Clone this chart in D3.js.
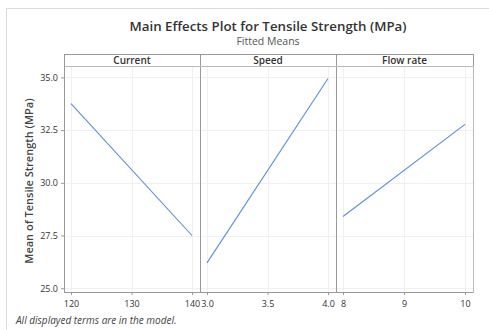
<!DOCTYPE html>
<html><head><meta charset="utf-8">
<script src="https://cdn.jsdelivr.net/npm/d3@7"></script>
<style>body{margin:0;background:#fff;font-family:"Open Sans","Noto Sans",sans-serif;}</style>
</head><body>
<svg id="c" width="489" height="330"></svg>
<script>
const factors = ["Current", "Speed", "Flow rate"];
const levels = [[120, 140], [3.0, 4.0], [8, 10]];
const means = [[33.75, 27.5], [26.2, 34.95], [28.4, 32.77]];
const xTicks = [[120, 130, 140], [3.0, 3.5, 4.0], [8, 9, 10]];
const xTickFmt = [d3.format("d"), d3.format(".1f"), d3.format("d")];
const yTicks = [25.0, 27.5, 30.0, 32.5, 35.0];

const svg = d3.select("#c");
svg.append("rect").attr("x", 6.5).attr("y", 8.5).attr("width", 520).attr("height", 400)
  .attr("fill", "none").attr("stroke", "#dcdcdc");

const L = 64, R = 473, T = 66, B = 292, HT = 54;
const y = d3.scaleLinear().domain([24.82, 35.54]).range([B, T]);

svg.append("text").attr("x", 268).attr("y", 31).attr("text-anchor", "middle")
  .attr("font-size", 13.3).attr("font-weight", 600).attr("fill", "#333").text("Main Effects Plot for Tensile Strength (MPa)");
svg.append("text").attr("x", 268).attr("y", 45).attr("text-anchor", "middle")
  .attr("font-size", 10.5).attr("fill", "#555").text("Fitted Means");

const grid = "#f0f0f0";
const edges = [L, 200, 336, R];
factors.forEach((f, i) => {
  const x0 = edges[i], x1 = edges[i + 1], w = x1 - x0;
  const x = d3.scaleLinear().domain(d3.extent(levels[i])).range([x0 + 7, x1 - 8]);
  const g = svg.append("g");
  g.selectAll(".hg").data(yTicks).join("line").attr("x1", x0).attr("x2", x1)
    .attr("y1", d => Math.round(y(d)) + 0.5).attr("y2", d => Math.round(y(d)) + 0.5).attr("stroke", grid);
  g.selectAll(".vg").data(xTicks[i]).join("line").attr("y1", T).attr("y2", B)
    .attr("x1", d => Math.round(x(d)) + 0.5).attr("x2", d => Math.round(x(d)) + 0.5).attr("stroke", grid);
  g.append("rect").attr("x", x0 + 0.5).attr("y", HT + 0.5).attr("width", w).attr("height", T - HT)
    .attr("fill", "#fff").attr("stroke", "#999");
  g.append("text").attr("x", x0 + w / 2).attr("y", T - 2.5).attr("text-anchor", "middle")
    .attr("font-size", 10).attr("font-weight", 600).attr("fill", "#333").text(f);
  const line = d3.line().x((d, j) => x(levels[i][j])).y(d => y(d));
  g.append("path").datum(means[i]).attr("d", line).attr("fill", "none")
    .attr("stroke", "#5b8fd1").attr("stroke-width", 1.1);
  const ax = svg.append("g").attr("transform", `translate(0,${B})`)
    .call(d3.axisBottom(x).tickValues(xTicks[i]).tickFormat(xTickFmt[i]).tickSize(3).tickSizeOuter(0));
  ax.select(".domain").remove();
  ax.selectAll("line").attr("stroke", "#999");
  ax.selectAll("text").attr("font-size", 9).attr("fill", "#333").attr("font-family", "Open Sans, sans-serif").attr("dy", "1em");
  if (i > 0) svg.append("line").attr("x1", x0 + 0.5).attr("x2", x0 + 0.5).attr("y1", T).attr("y2", B).attr("stroke", "#999");
});

svg.append("rect").attr("x", L + 0.5).attr("y", T + 0.5).attr("width", R - L).attr("height", B - T)
  .attr("fill", "none").attr("stroke", "#bbb");
svg.append("line").attr("x1", L + 0.5).attr("x2", L + 0.5).attr("y1", T).attr("y2", B).attr("stroke", "#999");
svg.append("line").attr("x1", L).attr("x2", R).attr("y1", B + 0.5).attr("y2", B + 0.5).attr("stroke", "#999");

const ay = svg.append("g").attr("transform", `translate(${L},0)`)
  .call(d3.axisLeft(y).tickValues(yTicks).tickFormat(d3.format(".1f")).tickSize(3).tickSizeOuter(0));
ay.select(".domain").remove();
ay.selectAll("line").attr("stroke", "#999");
ay.selectAll("text").attr("font-size", 9).attr("fill", "#333").attr("font-family", "Open Sans, sans-serif");

svg.append("text").attr("transform", `translate(33,${(T + B) / 2 + 2}) rotate(-90)`).attr("text-anchor", "middle")
  .attr("font-size", 11).attr("font-weight", 600).attr("fill", "#444").text("Mean of Tensile Strength (MPa)");

svg.append("text").attr("x", 16).attr("y", 324).attr("font-size", 10).attr("font-style", "italic")
  .attr("fill", "#444").text("All displayed terms are in the model.");
</script>
</body></html>
